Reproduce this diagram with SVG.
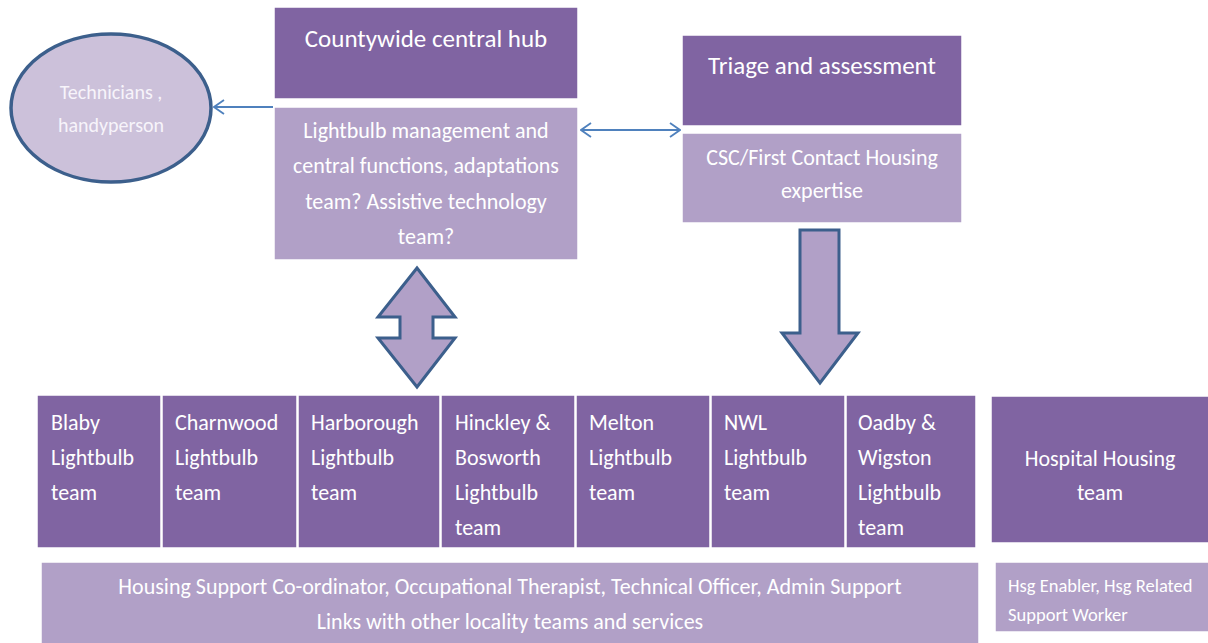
<svg xmlns="http://www.w3.org/2000/svg" width="1208" height="643" viewBox="0 0 1208 643">
<style>
text{font-family:Carlito,Lato,"Liberation Sans",sans-serif;fill:#fff}
.dark{fill:#8064A2;stroke:#fff;stroke-width:1.5}
.light{fill:#B1A0C7;stroke:#fff;stroke-width:1.5}
.t24{font-size:25px}
.t22{font-size:22px}
.t18{font-size:18.5px}
.ell{font-size:20px;fill:#F7F4FA}
.c{text-anchor:middle}
.conn{stroke:#4F81BD;stroke-width:1.8;fill:none}
.block{fill:#B1A0C7;stroke:#3C5F8C;stroke-width:3;stroke-linejoin:miter}
</style>
<defs>
<marker id="open" viewBox="0 0 12 16" refX="11" refY="8" markerWidth="12" markerHeight="16" markerUnits="userSpaceOnUse" orient="auto-start-reverse">
<path d="M1,1 L11,8 L1,15" fill="none" stroke="#4F81BD" stroke-width="1.8"/>
</marker>
</defs>
<rect width="1208" height="643" fill="#fff"/>

<g id="technicians">
<ellipse cx="111" cy="108" rx="100" ry="74" fill="#CCC1DA" stroke="#3C5F8C" stroke-width="3.5"/>
<text class="ell c" x="111" y="99">Technicians ,</text>
<text class="ell c" x="111" y="132">handyperson</text>
</g>

<g id="hub">
<rect class="dark" x="274" y="7" width="304" height="92"/>
<text class="t24 c" x="426" y="47">Countywide central hub</text>
<rect class="light" x="274" y="107" width="304" height="153"/>
<text class="t22 c" x="426" y="138">Lightbulb management and</text>
<text class="t22 c" x="426" y="173">central functions, adaptations</text>
<text class="t22 c" x="426" y="209">team? Assistive technology</text>
<text class="t22 c" x="426" y="244">team?</text>
</g>

<g id="triage">
<rect class="dark" x="682" y="35" width="280" height="91"/>
<text class="t24 c" x="822" y="74">Triage and assessment</text>
<rect class="light" x="682" y="133" width="280" height="90"/>
<text class="t22 c" x="822" y="165">CSC/First Contact Housing</text>
<text class="t22 c" x="822" y="198">expertise</text>
</g>

<g id="teams">
<g id="blaby"><rect class="dark" x="37" y="395" width="124" height="153"/>
<text class="t22" x="51" y="430">Blaby</text><text class="t22" x="51" y="465">Lightbulb</text><text class="t22" x="51" y="500">team</text></g>
<g id="charnwood"><rect class="dark" x="162" y="395" width="135" height="153"/>
<text class="t22" x="175" y="430">Charnwood</text><text class="t22" x="175" y="465">Lightbulb</text><text class="t22" x="175" y="500">team</text></g>
<g id="harborough"><rect class="dark" x="298" y="395" width="142" height="153"/>
<text class="t22" x="311" y="430">Harborough</text><text class="t22" x="311" y="465">Lightbulb</text><text class="t22" x="311" y="500">team</text></g>
<g id="hinckley"><rect class="dark" x="441" y="395" width="134" height="153"/>
<text class="t22" x="455" y="430">Hinckley &amp;</text><text class="t22" x="455" y="465">Bosworth</text><text class="t22" x="455" y="500">Lightbulb</text><text class="t22" x="455" y="535">team</text></g>
<g id="melton"><rect class="dark" x="576" y="395" width="134" height="153"/>
<text class="t22" x="589" y="430">Melton</text><text class="t22" x="589" y="465">Lightbulb</text><text class="t22" x="589" y="500">team</text></g>
<g id="nwl"><rect class="dark" x="711" y="395" width="134" height="153"/>
<text class="t22" x="724" y="430">NWL</text><text class="t22" x="724" y="465">Lightbulb</text><text class="t22" x="724" y="500">team</text></g>
<g id="oadby"><rect class="dark" x="846" y="395" width="130" height="153"/>
<text class="t22" x="858" y="430">Oadby &amp;</text><text class="t22" x="858" y="465">Wigston</text><text class="t22" x="858" y="500">Lightbulb</text><text class="t22" x="858" y="535">team</text></g>
</g>

<g id="hospital">
<rect class="dark" x="991" y="396" width="220" height="147"/>
<text class="t22 c" x="1100" y="466">Hospital Housing</text>
<text class="t22 c" x="1100" y="500">team</text>
</g>

<g id="support">
<rect class="light" x="41" y="562" width="938" height="84"/>
<text class="t22 c" x="510" y="594">Housing Support Co-ordinator, Occupational Therapist, Technical Officer, Admin Support</text>
<text class="t22 c" x="510" y="629">Links with other locality teams and services</text>
</g>

<g id="hsg">
<rect class="light" x="995" y="562" width="216" height="70"/>
<text class="t18" x="1008" y="592">Hsg Enabler, Hsg Related</text>
<text class="t18" x="1008" y="621">Support Worker</text>
</g>

<g id="connectors">
<line class="conn" x1="273" y1="107" x2="214" y2="107" marker-end="url(#open)"/>
<line class="conn" x1="581" y1="130" x2="680" y2="130" marker-start="url(#open)" marker-end="url(#open)"/>
<polygon class="block" points="417,268 455,317 433,317 433,338 455,338 417,387 378,338 400,338 400,317 378,317"/>
<polygon class="block" points="800,230 839,230 839,333 858,333 820,383 782,333 800,333"/>
</g>
</svg>
